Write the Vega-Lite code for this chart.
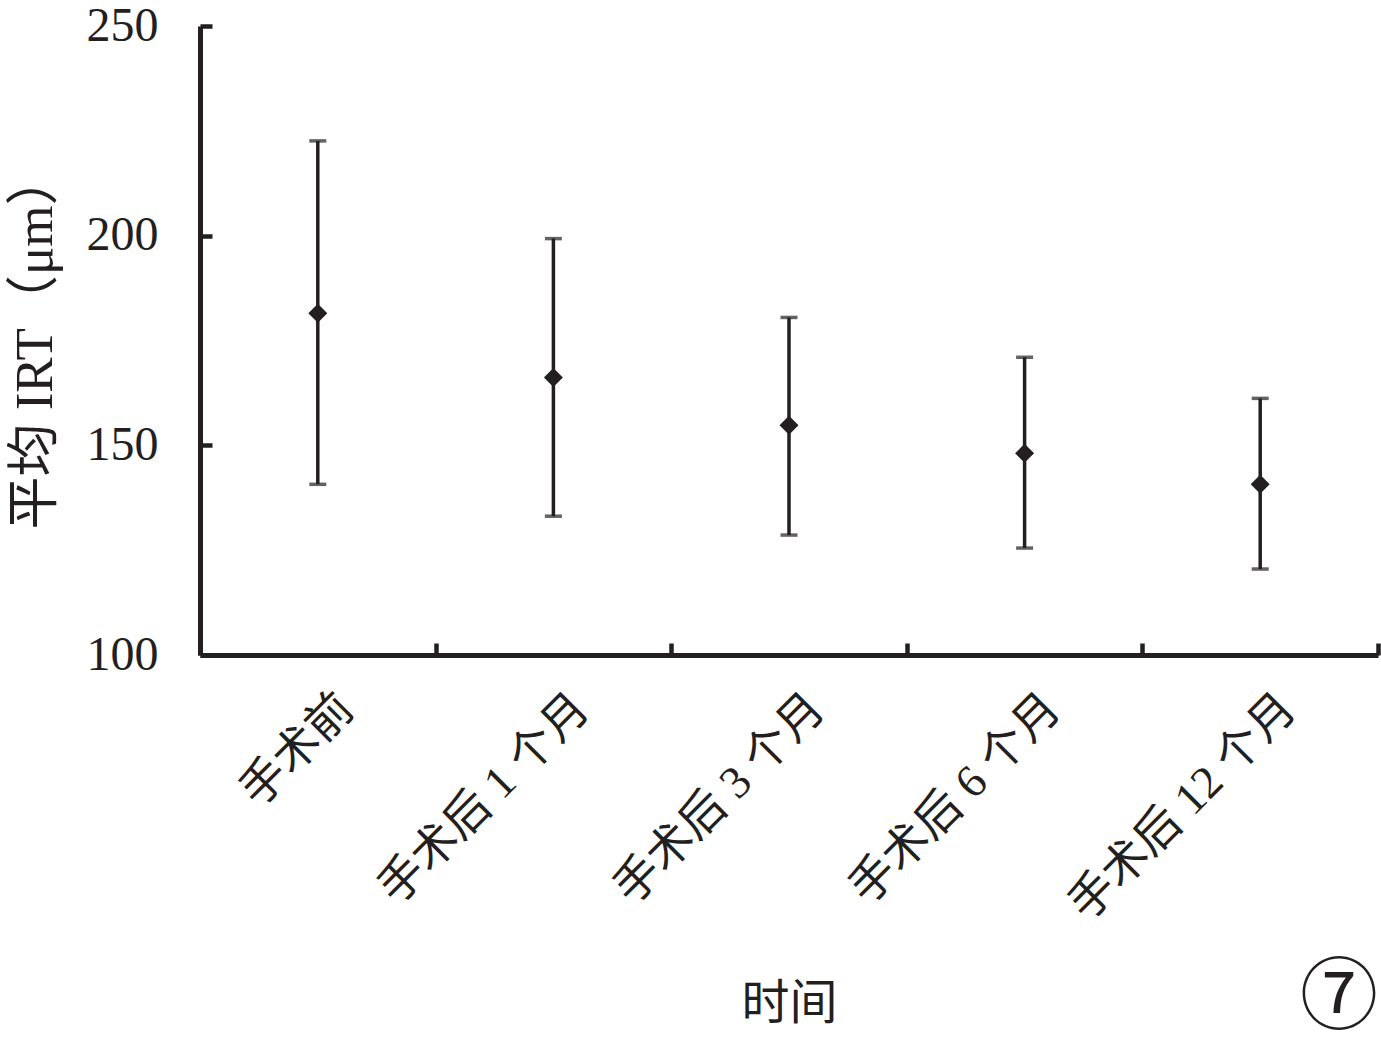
{
  "$schema": "https://vega.github.io/schema/vega-lite/v6.json",
  "autosize": {"type": "none"},
  "padding": {"top": 26, "left": 200, "right": 3, "bottom": 382},
  "width": 1178,
  "height": 629,
  "background": "white",
  "config": {
    "view": {"stroke": null},
    "font": "Liberation Serif, Noto Sans CJK SC",
    "axis": {
      "domainColor": "#231f20",
      "tickColor": "#231f20",
      "labelColor": "#231f20",
      "titleColor": "#231f20",
      "labelFont": "Liberation Serif, Noto Sans CJK SC",
      "titleFont": "Liberation Serif, Noto Sans CJK SC",
      "titleFontWeight": "normal",
      "grid": false
    }
  },
  "title": {
    "text": "⑦",
    "orient": "bottom",
    "anchor": "end",
    "frame": "group",
    "font": "Noto Sans CJK SC",
    "fontSize": 78,
    "fontWeight": "normal",
    "color": "#231f20",
    "offset": -67
  },
  "data": {
    "values": [
      {"time": "手术前", "mean": 181.5, "lower": 140.7, "upper": 222.6},
      {"time": "手术后 1 个月", "mean": 166.2, "lower": 133.1, "upper": 199.3},
      {"time": "手术后 3 个月", "mean": 154.8, "lower": 128.6, "upper": 180.5},
      {"time": "手术后 6 个月", "mean": 148.1, "lower": 125.5, "upper": 171.0},
      {"time": "手术后 12 个月", "mean": 140.7, "lower": 120.5, "upper": 161.2}
    ]
  },
  "encoding": {
    "x": {
      "field": "time",
      "type": "nominal",
      "sort": null,
      "scale": {"paddingInner": 0, "paddingOuter": 0},
      "axis": {
        "title": "时间",
        "titleFontSize": 48,
        "titlePadding": 125,
        "labelAngle": -45,
        "labelAlign": "right",
        "labelBaseline": "middle",
        "labelFontSize": 46,
        "labelLimit": 0,
        "labelPadding": 58,
        "labelOffset": 28,
        "tickBand": "extent",
        "tickSize": -12,
        "tickWidth": 4.5,
        "domainWidth": 5
      }
    }
  },
  "layer": [
    {
      "mark": {"type": "rule", "color": "#231f20", "strokeWidth": 3.5},
      "encoding": {
        "y": {
          "field": "lower",
          "type": "quantitative",
          "scale": {"domain": [100, 250], "nice": false, "zero": false},
          "axis": {
            "title": "平均 IRT（μm）",
            "titleFontSize": 53,
            "titlePadding": 24,
            "values": [100, 150, 200, 250],
            "labelFontSize": 48,
            "labelPadding": 54,
            "labelBaseline": "middle",
            "tickSize": -12,
            "tickWidth": 4.5,
            "domainWidth": 5
          }
        },
        "y2": {"field": "upper"}
      }
    },
    {
      "mark": {"type": "tick", "color": "#231f20", "size": 17, "thickness": 3.5, "orient": "horizontal"},
      "encoding": {"y": {"field": "upper", "type": "quantitative"}}
    },
    {
      "mark": {"type": "tick", "color": "#231f20", "size": 17, "thickness": 3.5, "orient": "horizontal"},
      "encoding": {"y": {"field": "lower", "type": "quantitative"}}
    },
    {
      "mark": {"type": "point", "shape": "diamond", "filled": true, "color": "#231f20", "size": 360, "opacity": 1},
      "encoding": {"y": {"field": "mean", "type": "quantitative"}}
    }
  ]
}
